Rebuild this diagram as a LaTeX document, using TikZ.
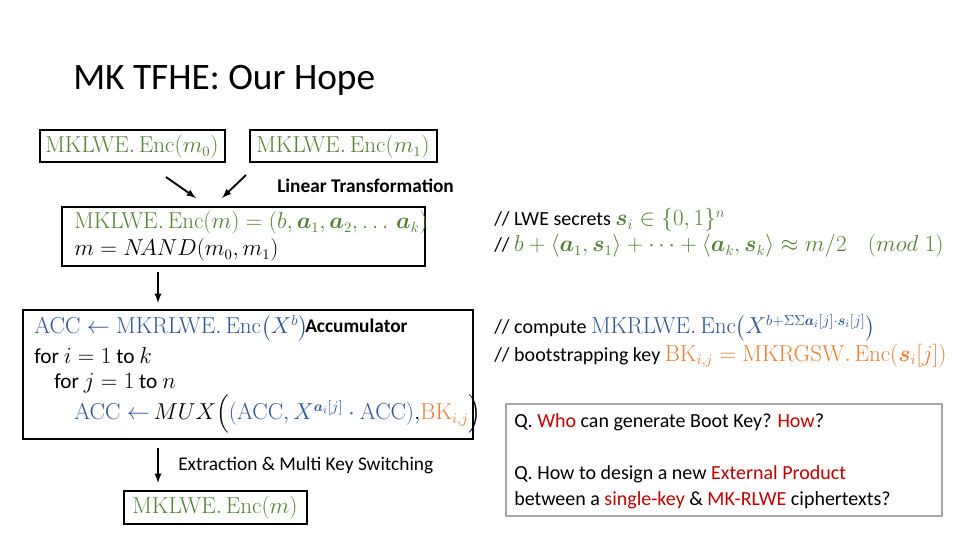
\documentclass[tikz,border=0pt]{standalone}
\usepackage{amsmath,amssymb,bm}
\usepackage[no-math]{fontspec}
\setmainfont{Carlito}
\definecolor{gr}{RGB}{84,130,53}
\definecolor{bl}{RGB}{47,85,151}
\definecolor{og}{RGB}{237,125,49}
\definecolor{rd}{RGB}{192,0,0}
\tikzset{box/.style={draw,line width=0.9pt,inner sep=0pt},
 lbl/.style={anchor=west,inner sep=0pt,font=\fontsize{15}{18}\selectfont},
 mth/.style={anchor=west,inner sep=0pt,font=\fontsize{16}{18}\selectfont},
 arr/.style={-latex,line width=1.4pt}}
\newcommand{\Enc}{\mathrm{Enc}}
\begin{document}
\begin{tikzpicture}[x=0.75pt,y=-0.75pt]
\useasboundingbox (0,0) rectangle (960,540);
\node[lbl,font=\fontsize{28}{30}\selectfont] (title) at (73,80) {MK TFHE: Our Hope};
% top boxes
\draw[box] (40,130) rectangle (225,162); \node (b0) at (132,147) {\fontsize{16}{18}\selectfont\color{gr}$\mathrm{MKLWE.}\,\Enc(m_0)$};
\draw[box] (250,130) rectangle (437,162); \node (b1) at (343,147) {\fontsize{16}{18}\selectfont\color{gr}$\mathrm{MKLWE.}\,\Enc(m_1)$};
\coordinate (a0s) at (166,177); \coordinate (a0e) at (196,198);
\coordinate (a1s) at (246,175); \coordinate (a1e) at (222,198);
\draw[arr] (a0s) -- (a0e); \draw[arr] (a1s) -- (a1e);
\node[lbl,font=\fontsize{14.5}{16}\selectfont\bfseries] (lt) at (277,186) {Linear Transformation};
% enc box
\draw[box] (62,207) rectangle (425,266);
\node[mth] (e1) at (74,223) {\color{gr}$\mathrm{MKLWE.}\,\Enc(m)=(b,\bm{a}_1,\bm{a}_2,\ldots\,\bm{a}_k)$};
\node[mth] (e2) at (74,250) {$m=N\!AND(m_0,m_1)$};
\coordinate (d1s) at (158,272); \coordinate (d1e) at (158,303);
\draw[arr] (d1s) -- (d1e);
% acc box
\draw[box] (23,310) rectangle (473,439);
\node[mth] (c1) at (34,328) {\color{bl}$\mathrm{ACC}\leftarrow\mathrm{MKRLWE.}\,\Enc\bigl(X^b\bigr)$};
\node[lbl,font=\fontsize{14.5}{16}\selectfont\bfseries] (accl) at (305,326) {Accumulator};
\node[lbl,font=\fontsize{16}{18}\selectfont] (c2) at (34,356) {for $i=1$ to $k$};
\node[lbl,font=\fontsize{16}{18}\selectfont] (c3) at (54,383) {for $j=1$ to $n$};
\node[mth] (c4) at (74,414) {{\color{bl}$\mathrm{ACC}\leftarrow$}$\,MUX\Bigl(${\color{bl}$(\mathrm{ACC},X^{\bm{a}_i[j]}\cdot\mathrm{ACC})$}$,${\color{og}$\mathrm{BK}_{i,j}$}$\Bigr)$};
\coordinate (d2s) at (158,448); \coordinate (d2e) at (158,483);
\draw[arr] (d2s) -- (d2e);
\node[lbl,font=\fontsize{14.5}{16}\selectfont] (ex) at (178,465) {Extraction \& Multi Key Switching};
\draw[box] (124,491) rectangle (307,524);
\node (fin) at (215,508) {\fontsize{16}{18}\selectfont\color{gr}$\mathrm{MKLWE.}\,\Enc(m)$};
% comments
\node[lbl] (r1) at (494,220) {// LWE secrets {\fontsize{16}{18}\selectfont\color{gr}$\bm{s}_i\in\{0,1\}^n$}};
\node[lbl] (r2) at (494,246) {// {\fontsize{16}{18}\selectfont\color{gr}$b+\langle\bm{a}_1,\bm{s}_1\rangle+\cdots+\langle\bm{a}_k,\bm{s}_k\rangle\approx m/2\quad(mod\;1)$}};
\node[lbl] (r3) at (494,328) {// compute {\fontsize{16}{18}\selectfont\color{bl}$\mathrm{MKRLWE.}\,\Enc\bigl(X^{b+\Sigma\Sigma\bm{a}_i[j]\cdot\bm{s}_i[j]}\bigr)$}};
\node[lbl] (r4) at (494,356) {// bootstrapping key {\fontsize{16}{18}\selectfont\color{og}$\mathrm{BK}_{i,j}=\mathrm{MKRGSW.}\,\Enc(\bm{s}_i[j])$}};
% Q box
\draw[box,draw=gray!70,line width=1.2pt] (506,404) rectangle (942,516);
\node[lbl] (q1) at (514,422) {Q. {\color{rd}Who} can generate Boot Key? {\color{rd}How}?};
\node[lbl] (q2) at (514,474) {Q. How to design a new {\color{rd}External Product}};
\node[lbl] (q3) at (514,500) {between a {\color{rd}single-key} \& {\color{rd}MK-RLWE} ciphertexts?};
\end{tikzpicture}
\end{document}
